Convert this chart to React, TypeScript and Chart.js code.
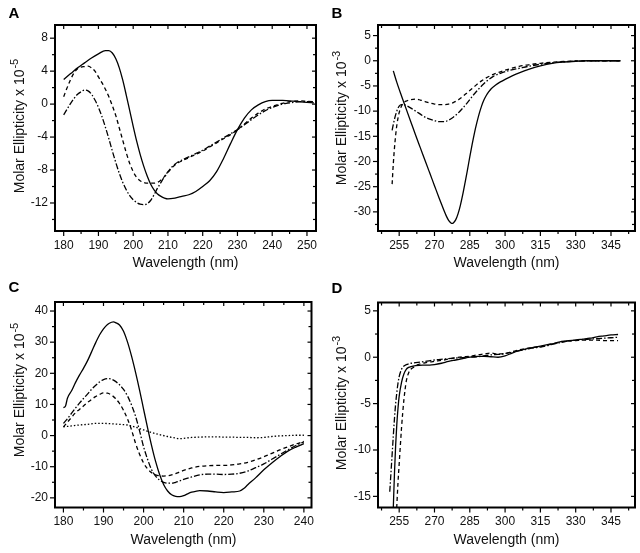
import React, { useEffect, useRef } from "react";
import { Chart, registerables } from "chart.js";

Chart.register(...registerables);

const FONT = "'Liberation Sans', Arial, Helvetica, sans-serif";

// ---------- Panel A (far-UV, x 10^-5) ----------
const aSolidX = [180, 182, 184, 186, 188, 190, 192, 193, 194, 195, 196, 197, 198, 199, 200, 201, 202, 203, 204, 205, 206, 207, 208, 209, 210, 212, 214, 216, 218, 220, 222, 224, 226, 228, 230, 232, 234, 236, 238, 240, 243, 246, 249, 252];
const aSolidY = [3.0, 3.7, 4.4, 5.0, 5.6, 6.1, 6.5, 6.5, 6.2, 5.5, 4.4, 2.9, 1.1, -0.8, -2.7, -4.5, -6.1, -7.5, -8.7, -9.7, -10.4, -10.9, -11.2, -11.4, -11.5, -11.4, -11.2, -11.0, -10.6, -10.0, -9.3, -8.2, -6.6, -4.8, -3.1, -1.7, -0.7, -0.1, 0.3, 0.45, 0.45, 0.35, 0.25, 0.15];
const aWave = [180, 181, 182, 183, 184, 185, 186, 187, 188, 189, 190, 191, 192, 193, 194, 195, 196, 197, 198, 199, 200, 201, 202, 203, 204, 205, 206, 207, 208, 209, 210, 211, 212, 213, 214, 216, 218, 220, 222, 224, 226, 228, 230, 232, 234, 236, 238, 240, 242, 244, 246, 248, 250, 252];
const aDashY = [0.9, 2.0, 3.0, 3.8, 4.3, 4.5, 4.55, 4.6, 4.4, 4.0, 3.3, 2.6, 1.8, 0.9, -0.2, -1.4, -2.9, -4.4, -5.9, -7.2, -8.2, -8.9, -9.3, -9.5, -9.6, -9.6, -9.6, -9.5, -9.2, -8.8, -8.3, -7.8, -7.4, -7.1, -6.9, -6.5, -6.1, -5.7, -5.2, -4.7, -4.2, -3.7, -3.1, -2.4, -1.7, -1.1, -0.6, -0.3, 0.0, 0.2, 0.35, 0.4, 0.35, 0.3];
const aDotDashY = [-1.3, -0.6, 0.1, 0.7, 1.2, 1.5, 1.7, 1.6, 1.2, 0.5, -0.4, -1.5, -2.8, -4.2, -5.7, -7.1, -8.4, -9.5, -10.4, -11.1, -11.6, -11.95, -12.15, -12.2, -12.1, -11.7, -11.0, -10.2, -9.5, -8.8, -8.2, -7.7, -7.3, -7.0, -6.8, -6.4, -6.0, -5.6, -5.1, -4.6, -4.1, -3.6, -3.1, -2.5, -1.9, -1.3, -0.8, -0.4, -0.1, 0.1, 0.2, 0.3, 0.3, 0.3];
const aXMajor = [180, 190, 200, 210, 220, 230, 240, 250];
const aXMinor = [185, 195, 205, 215, 225, 235, 245];
const aYMajor = [-12, -8, -4, 0, 4, 8];
const aYMinor = [-14, -10, -6, -2, 2, 6];

// ---------- Panel B (near-UV, x 10^-3) ----------
const bSolidX = [252.5, 254, 256, 258, 260, 262, 264, 266, 268, 270, 272, 273, 274, 275, 276, 277, 277.5, 278, 279, 280, 281, 282, 283, 284, 285, 286, 287, 288, 289, 290, 291, 292, 293, 294, 296, 298, 300, 303, 306, 310, 315, 320, 325, 330, 335, 340, 345, 349];
const bSolidY = [-2.0, -4.3, -7.0, -9.6, -12.2, -14.8, -17.3, -19.8, -22.3, -24.8, -27.3, -28.5, -29.7, -30.8, -31.7, -32.2, -32.3, -32.2, -31.6, -30.4, -28.7, -26.6, -24.2, -21.7, -19.1, -16.6, -14.3, -12.3, -10.5, -9.0, -7.8, -6.9, -6.2, -5.6, -4.8, -4.2, -3.7, -3.0, -2.4, -1.7, -1.0, -0.5, -0.25, -0.1, 0, 0, 0, 0];
const bDashX = [252, 252.5, 253, 253.5, 254, 255, 256, 257, 258, 260, 262, 264, 266, 268, 270, 272, 274, 276, 278, 280, 282, 284, 286, 288, 290, 292, 295, 298, 302, 306, 310, 315, 320, 325, 330, 335, 340, 345, 349];
const bDashY = [-24.5, -20.5, -17.3, -14.8, -12.8, -10.3, -9.0, -8.3, -8.0, -7.7, -7.6, -7.8, -8.1, -8.4, -8.6, -8.7, -8.7, -8.6, -8.3, -7.8, -7.1, -6.3, -5.5, -4.7, -4.0, -3.4, -2.7, -2.2, -1.6, -1.1, -0.8, -0.5, -0.3, -0.15, -0.05, 0, 0, 0, 0];
const bDotDashX = [252, 253, 254, 255, 256, 257, 258, 260, 262, 264, 266, 268, 270, 272, 274, 276, 278, 280, 282, 284, 286, 288, 290, 292, 295, 298, 302, 306, 310, 315, 320, 325, 330, 335, 340, 345, 349];
const bDotDashY = [-13.8, -11.6, -10.0, -9.0, -8.7, -8.7, -8.9, -9.4, -10.0, -10.6, -11.2, -11.6, -11.9, -12.1, -12.1, -11.8, -11.2, -10.4, -9.4, -8.3, -7.1, -6.0, -5.0, -4.1, -3.1, -2.5, -1.9, -1.5, -1.1, -0.7, -0.4, -0.2, -0.1, 0, 0, 0, 0];
const bXMajor = [255, 270, 285, 300, 315, 330, 345];
const bXMinor = [247.5, 262.5, 277.5, 292.5, 307.5, 322.5, 337.5, 352.5];
const bYMajor = [-30, -25, -20, -15, -10, -5, 0, 5];
const bYMinor = [-32.5, -27.5, -22.5, -17.5, -12.5, -7.5, -2.5, 2.5];

// ---------- Panel C (far-UV, x 10^-5) ----------
const cSolidX = [180, 180.5, 181, 182, 183, 184, 185, 186, 187, 188, 189, 190, 191, 192, 192.5, 193, 194, 195, 196, 197, 198, 199, 200, 201, 202, 203, 204, 205, 206, 207, 208, 209, 210, 211, 212, 213, 214, 216, 218, 220, 222, 224, 225, 226, 228, 230, 232, 234, 236, 238, 240];
const cSolidY = [9.0, 9.4, 12.0, 14.3, 17.0, 19.4, 21.6, 24.0, 26.8, 29.7, 32.3, 34.3, 35.7, 36.4, 36.5, 36.3, 35.5, 33.5, 30.0, 25.5, 20.3, 14.6, 8.5, 2.5, -3.2, -8.3, -12.5, -15.7, -17.8, -19.0, -19.5, -19.6, -19.3, -18.7, -18.2, -17.9, -17.7, -17.8, -18.1, -18.3, -18.1, -17.8, -17.0, -15.8, -13.5, -11.0, -8.8, -6.8, -5.0, -3.7, -2.6];
const cWave = [180, 181, 182, 183, 184, 185, 186, 187, 188, 189, 190, 191, 192, 193, 194, 195, 196, 197, 198, 199, 200, 201, 202, 203, 204, 205, 206, 207, 208, 209, 210, 212, 214, 216, 218, 220, 222, 224, 226, 228, 230, 232, 234, 236, 238, 240];
const cDotDashY = [3.9, 5.4, 7.1, 8.8, 10.4, 11.9, 13.3, 14.8, 16.1, 17.2, 18.0, 18.3, 18.1, 17.4, 16.3, 14.8, 12.7, 9.8, 6.2, 1.5, -3.6, -7.6, -11.0, -13.0, -14.3, -15.0, -15.3, -15.3, -15.0, -14.6, -14.1, -13.3, -12.6, -12.4, -12.4, -12.5, -12.4, -12.1, -11.4, -10.3, -9.1, -7.6, -6.1, -4.6, -3.2, -2.0];
const cDashY = [2.8, 4.3, 5.8, 7.3, 8.4, 9.5, 10.6, 11.6, 12.5, 13.2, 13.7, 13.6, 13.0, 11.9, 10.3, 8.1, 5.3, 1.8, -2.5, -6.0, -8.8, -10.7, -11.9, -12.6, -12.9, -13.0, -12.9, -12.6, -12.2, -11.7, -11.2, -10.4, -9.9, -9.7, -9.6, -9.6, -9.4, -9.1, -8.6, -7.8, -6.8, -5.7, -4.6, -3.6, -2.7, -1.9];
const cDotX = [180, 182, 184, 186, 188, 190, 192, 194, 196, 197, 198, 200, 202, 204, 206, 208, 209, 210, 212, 214, 216, 218, 220, 222, 224, 226, 228, 230, 232, 234, 236, 238, 240];
const cDotY = [2.8, 3.1, 3.4, 3.6, 3.9, 3.9, 3.8, 3.6, 3.4, 3.1, 2.7, 1.8, 1.0, 0.3, -0.3, -0.8, -1.0, -0.9, -0.6, -0.5, -0.4, -0.4, -0.5, -0.5, -0.6, -0.6, -0.7, -0.6, -0.3, -0.1, 0.0, 0.1, 0.1];
const cXMajor = [180, 190, 200, 210, 220, 230, 240];
const cXMinor = [185, 195, 205, 215, 225, 235];
const cYMajor = [-20, -10, 0, 10, 20, 30, 40];
const cYMinor = [-15, -5, 5, 15, 25, 35];

// ---------- Panel D (near-UV, x 10^-3) ----------
const dSolidX = [252.4, 253, 253.5, 254, 254.5, 255, 256, 257, 258, 259, 260, 262, 265, 268, 270, 273, 276, 279, 282, 285, 288, 291, 294, 297, 300, 303, 306, 309, 312, 315, 318, 321, 324, 327, 330, 333, 336, 339, 342, 345, 348];
const dSolidY = [-17, -12.5, -9.5, -7.2, -5.5, -4.2, -2.7, -1.8, -1.3, -1.1, -1.0, -0.9, -0.85, -0.85, -0.8, -0.65, -0.45, -0.3, -0.15, 0.0, 0.1, 0.1, 0.05, 0.0, 0.15, 0.45, 0.7, 0.9, 1.05, 1.2, 1.35, 1.5, 1.7, 1.8, 1.85, 1.95, 2.05, 2.2, 2.3, 2.4, 2.45];
const dDotDashX = [251, 251.5, 252, 252.5, 253, 253.5, 254, 254.5, 255, 256, 257, 258, 260, 263, 266, 270, 274, 278, 282, 285, 288, 291, 294, 297, 300, 303, 306, 309, 312, 315, 318, 321, 324, 327, 330, 333, 336, 339, 342, 345, 348];
const dDotDashY = [-14.5, -12.5, -10.5, -8.5, -6.6, -5.0, -3.8, -2.8, -2.1, -1.3, -0.95, -0.8, -0.65, -0.55, -0.45, -0.3, -0.2, -0.1, -0.05, 0.0, 0.05, 0.15, 0.25, 0.3, 0.4, 0.55, 0.7, 0.85, 1.0, 1.1, 1.25, 1.45, 1.6, 1.75, 1.85, 1.9, 1.95, 2.0, 2.05, 2.1, 2.15];
const dDashX = [253.8, 254.5, 255, 255.5, 256, 256.5, 257, 257.5, 258, 259, 260, 261, 263, 266, 270, 274, 278, 282, 285, 288, 291, 294, 297, 300, 303, 306, 309, 312, 315, 318, 321, 324, 327, 330, 333, 336, 339, 342, 345, 348];
const dDashY = [-17, -13.5, -11.5, -9.5, -7.6, -6.0, -4.6, -3.5, -2.6, -1.7, -1.3, -1.1, -0.8, -0.6, -0.45, -0.3, -0.1, 0.05, 0.1, 0.25, 0.35, 0.45, 0.35, 0.4, 0.6, 0.8, 0.95, 1.05, 1.15, 1.3, 1.5, 1.65, 1.75, 1.8, 1.85, 1.85, 1.85, 1.8, 1.8, 1.8];
const dXMajor = [255, 270, 285, 300, 315, 330, 345];
const dXMinor = [247.5, 262.5, 277.5, 292.5, 307.5, 322.5, 337.5, 352.5];
const dYMajor = [-15, -10, -5, 0, 5];
const dYMinor = [-12.5, -7.5, -2.5, 2.5];

// ---------- Text ----------
const xTitle = "Wavelength (nm)";
const yTitleBase = "Molar Ellipticity x 10";

// ---------- Styles ----------
const SOLID: number[] = [];
const DASH = [4, 3];
const DOTDASH = [6, 2, 1.5, 2];
const DOT = [1.5, 2];

type Series = { x: number[]; y: number[]; dash: number[] };
type PanelCfg = {
  letter: string;
  exp: string;
  left: number; top: number; w: number; h: number;
  box: { l: number; t: number; r: number; b: number };
  xMin: number; xMax: number; yMin: number; yMax: number;
  xMajor: number[]; xMinor: number[]; yMajor: number[]; yMinor: number[];
  series: Series[];
  letterPos: [number, number];
  yTitlePos: [number, number];
  xTitlePos: [number, number];
};

const panels: PanelCfg[] = [
  {
    letter: "A", exp: "-5", left: 0, top: 0, w: 320, h: 276,
    box: { l: 55, t: 25, r: 316, b: 231 },
    xMin: 177.5, xMax: 252.6, yMin: -15.4, yMax: 9.6,
    xMajor: aXMajor, xMinor: aXMinor, yMajor: aYMajor, yMinor: aYMinor,
    series: [
      { x: aSolidX, y: aSolidY, dash: SOLID },
      { x: aWave, y: aDashY, dash: DASH },
      { x: aWave, y: aDotDashY, dash: DOTDASH },
    ],
    letterPos: [14, 13], yTitlePos: [18.5, 126], xTitlePos: [185.5, 261.5],
  },
  {
    letter: "B", exp: "-3", left: 320, top: 0, w: 320, h: 276,
    box: { l: 58, t: 25, r: 315, b: 231 },
    xMin: 246.0, xMax: 355.2, yMin: -33.8, yMax: 7.1,
    xMajor: bXMajor, xMinor: bXMinor, yMajor: bYMajor, yMinor: bYMinor,
    series: [
      { x: bSolidX, y: bSolidY, dash: SOLID },
      { x: bDashX, y: bDashY, dash: DASH },
      { x: bDotDashX, y: bDotDashY, dash: DOTDASH },
    ],
    letterPos: [337, 13], yTitlePos: [341, 118], xTitlePos: [506.5, 261.5],
  },
  {
    letter: "C", exp: "-5", left: 0, top: 276, w: 320, h: 277,
    box: { l: 55, t: 26, r: 311.5, b: 231.5 },
    xMin: 177.9, xMax: 241.9, yMin: -23.1, yMax: 42.9,
    xMajor: cXMajor, xMinor: cXMinor, yMajor: cYMajor, yMinor: cYMinor,
    series: [
      { x: cSolidX, y: cSolidY, dash: SOLID },
      { x: cWave, y: cDotDashY, dash: DOTDASH },
      { x: cWave, y: cDashY, dash: DASH },
      { x: cDotX, y: cDotY, dash: DOT },
    ],
    letterPos: [14, 287], yTitlePos: [18.5, 390], xTitlePos: [183.5, 539],
  },
  {
    letter: "D", exp: "-3", left: 320, top: 276, w: 320, h: 277,
    box: { l: 58, t: 26.5, r: 315, b: 231.5 },
    xMin: 246.0, xMax: 355.2, yMin: -16.2, yMax: 5.9,
    xMajor: dXMajor, xMinor: dXMinor, yMajor: dYMajor, yMinor: dYMinor,
    series: [
      { x: dSolidX, y: dSolidY, dash: SOLID },
      { x: dDotDashX, y: dDotDashY, dash: DOTDASH },
      { x: dDashX, y: dDashY, dash: DASH },
    ],
    letterPos: [337, 288], yTitlePos: [341, 403], xTitlePos: [506.5, 539],
  },
];

function PanelChart({ cfg }: { cfg: PanelCfg }) {
  const ref = useRef<HTMLCanvasElement>(null);
  useEffect(() => {
    const canvas = ref.current;
    if (!canvas) return;
    const { box } = cfg;
    const framePlugin = {
      id: "frameTicks",
      afterDraw(chart: any) {
        const ctx = chart.ctx as CanvasRenderingContext2D;
        const { left, top, right, bottom } = chart.chartArea;
        const xs = chart.scales.x;
        const ys = chart.scales.y;
        ctx.save();
        ctx.strokeStyle = "#000";
        ctx.lineWidth = 1.2;
        ctx.setLineDash([]);
        const tick = (x1: number, y1: number, x2: number, y2: number) => {
          ctx.beginPath();
          ctx.moveTo(x1, y1);
          ctx.lineTo(x2, y2);
          ctx.stroke();
        };
        const xT = (vals: number[], outLen: number, inLen: number) => {
          vals.forEach((v) => {
            const p = xs.getPixelForValue(v);
            tick(p, bottom, p, bottom + outLen);
            tick(p, top, p, top + inLen);
          });
        };
        const yT = (vals: number[], outLen: number, inLen: number) => {
          vals.forEach((v) => {
            const p = ys.getPixelForValue(v);
            tick(left, p, left - outLen, p);
            tick(right, p, right - inLen, p);
          });
        };
        xT(cfg.xMajor, 5, 4);
        xT(cfg.xMinor, 3, 3);
        yT(cfg.yMajor, 5, 4);
        yT(cfg.yMinor, 3, 3);
        ctx.lineWidth = 2;
        ctx.strokeRect(left, top, right - left, bottom - top);
        ctx.restore();
      },
    };
    const chart = new Chart(canvas, {
      type: "line",
      data: {
        datasets: cfg.series.map((s) => ({
          data: s.x.map((x, i) => ({ x, y: s.y[i] })),
          borderColor: "#000",
          borderWidth: 1.3,
          borderDash: s.dash,
          pointRadius: 0,
          fill: false,
          tension: 0.4,
          cubicInterpolationMode: "monotone" as const,
        })),
      },
      options: {
        animation: false,
        responsive: false,
        maintainAspectRatio: false,
        devicePixelRatio: 1,
        events: [],
        layout: { padding: { left: 0, top: box.t, right: cfg.w - box.r, bottom: 0 } },
        plugins: { legend: { display: false }, tooltip: { enabled: false }, title: { display: false } },
        scales: {
          x: {
            type: "linear",
            min: cfg.xMin,
            max: cfg.xMax,
            grid: { display: false, drawTicks: false },
            border: { display: false },
            ticks: {
              autoSkip: false,
              maxRotation: 0,
              padding: 7,
              color: "#111",
              font: { family: FONT, size: 12 },
              callback: (v: any) => String(v),
            },
            afterBuildTicks: (s: any) => {
              s.ticks = cfg.xMajor.map((v) => ({ value: v }));
            },
            afterFit: (s: any) => {
              s.height = cfg.h - box.b;
              s.paddingLeft = 0;
              s.paddingRight = 0;
            },
          },
          y: {
            type: "linear",
            min: cfg.yMin,
            max: cfg.yMax,
            grid: { display: false, drawTicks: false },
            border: { display: false },
            ticks: {
              autoSkip: false,
              padding: 7,
              color: "#111",
              font: { family: FONT, size: 12 },
              callback: (v: any) => String(v),
            },
            afterBuildTicks: (s: any) => {
              s.ticks = cfg.yMajor.map((v) => ({ value: v }));
            },
            afterFit: (s: any) => {
              s.width = box.l;
              s.paddingTop = 0;
              s.paddingBottom = 0;
            },
          },
        },
      },
      plugins: [framePlugin],
    } as any);
    return () => chart.destroy();
  }, [cfg]);
  return (
    <canvas
      ref={ref}
      width={cfg.w}
      height={cfg.h}
      style={{ position: "absolute", left: cfg.left, top: cfg.top, width: cfg.w, height: cfg.h }}
    />
  );
}

export default function App() {
  return (
    <div
      style={{
        position: "absolute",
        left: 0,
        top: 0,
        width: 640,
        height: 553,
        background: "#fff",
        overflow: "hidden",
        fontFamily: FONT,
        color: "#111",
      }}
    >
      {panels.map((p) => (
        <PanelChart key={p.letter} cfg={p} />
      ))}
      {panels.map((p) => (
        <React.Fragment key={"t" + p.letter}>
          <div
            style={{
              position: "absolute",
              left: p.letterPos[0],
              top: p.letterPos[1],
              transform: "translate(-50%, -50%)",
              fontWeight: "bold",
              fontSize: 15,
              lineHeight: "16px",
              color: "#000",
            }}
          >
            {p.letter}
          </div>
          <div
            style={{
              position: "absolute",
              left: p.xTitlePos[0],
              top: p.xTitlePos[1],
              transform: "translate(-50%, -50%)",
              fontSize: 14,
              lineHeight: "16px",
              whiteSpace: "nowrap",
            }}
          >
            {xTitle}
          </div>
          <div
            style={{
              position: "absolute",
              left: p.yTitlePos[0],
              top: p.yTitlePos[1],
              transform: "translate(-50%, -50%) rotate(-90deg)",
              fontSize: 14,
              lineHeight: "16px",
              whiteSpace: "nowrap",
            }}
          >
            {yTitleBase}
            <span style={{ fontSize: 11, position: "relative", top: -6, marginLeft: 1 }}>{p.exp}</span>
          </div>
        </React.Fragment>
      ))}
    </div>
  );
}
